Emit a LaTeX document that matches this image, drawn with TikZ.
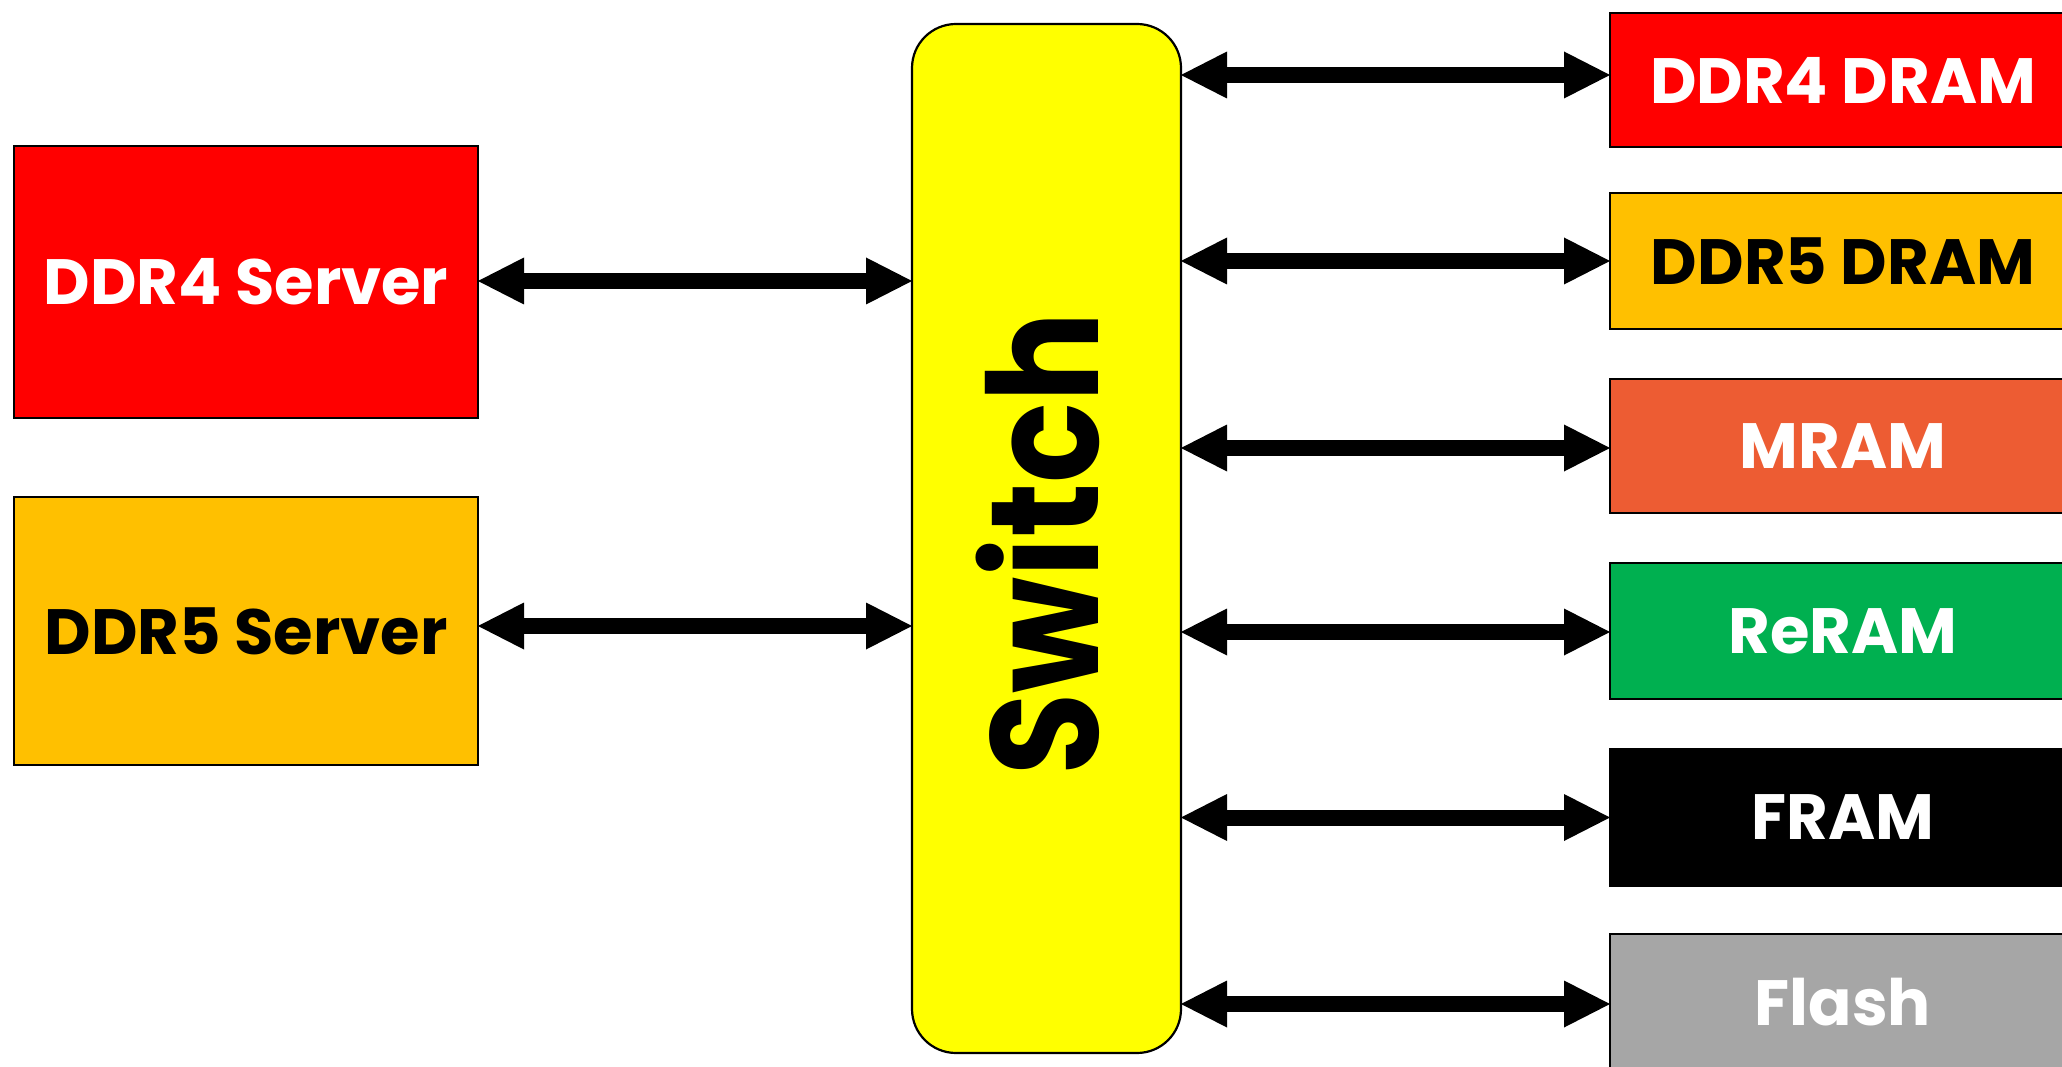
\documentclass[tikz,border=0pt]{standalone}
\usepackage{fontspec}
\setmainfont{Poppins}
\usetikzlibrary{arrows.meta}
\definecolor{cRed}{HTML}{FF0000}
\definecolor{cOrange}{HTML}{FFC000}
\definecolor{cMram}{HTML}{ED5C33}
\definecolor{cGreen}{HTML}{00B050}
\definecolor{cGray}{HTML}{A6A6A6}
\definecolor{cYellow}{HTML}{FFFF00}
\tikzset{
  box/.style={draw=black, line width=2pt, inner sep=0pt, outer sep=0pt,
    font=\fontsize{64}{70}\selectfont\bfseries},
  biarrow/.style={line width=16pt,
    {Triangle[width=47pt,length=46pt,line width=0pt]}-{Triangle[width=47pt,length=46pt,line width=0pt]}},
}
\begin{document}
\begin{tikzpicture}[x=1pt,y=-1pt]
\useasboundingbox (0,0) rectangle (2062,1067);
\clip (0,0) rectangle (2062,1067);
% left boxes
\node[box, fill=cRed, text=white, minimum width=464pt, minimum height=272pt] (s4) at (246,282) {DDR4 Server};
\node[box, fill=cOrange, text=black, minimum width=464pt, minimum height=268pt] (s5) at (246,631) {DDR5 Server};
% switch
\node[draw=black, line width=2.2pt, fill=cYellow, rounded corners=44pt, minimum width=269pt, minimum height=1029pt, inner sep=0pt, outer sep=0pt] (sw) at (1046.5,538.5) {};
\node[rotate=90, anchor=base, inner sep=0pt, font=\fontsize{153}{160}\selectfont\bfseries] (swt) at (1098,544) {\scalebox{0.875}[1]{Switch}};
% right boxes
\node[box, fill=cRed, text=white, minimum width=466pt, minimum height=134pt] (r1) at (1843,80) {DDR4 DRAM};
\node[box, fill=cOrange, text=black, minimum width=466pt, minimum height=136pt] (r2) at (1843,261) {DDR5 DRAM};
\node[box, fill=cMram, text=white, minimum width=466pt, minimum height=134pt] (r3) at (1843,446) {MRAM};
\node[box, fill=cGreen, text=white, minimum width=466pt, minimum height=136pt] (r4) at (1843,631) {ReRAM};
\node[box, fill=black, text=white, minimum width=466pt, minimum height=137pt] (r5) at (1843,817.5) {FRAM};
\node[box, fill=cGray, text=white, minimum width=466pt, minimum height=136pt] (r6) at (1843,1002) {Flash};
% arrows
\draw[biarrow] ([yshift=1pt]s4.east) -- ([yshift=1pt]s4.east -| sw.west);
\draw[biarrow] ([yshift=5pt]s5.east) -- ([yshift=5pt]s5.east -| sw.west);
\draw[biarrow] ([yshift=5pt]r1.west -| sw.east) -- ([yshift=5pt]r1.west);
\draw[biarrow] (r2.west -| sw.east) -- (r2.west);
\draw[biarrow] ([yshift=-2pt]r3.west -| sw.east) -- ([yshift=-2pt]r3.west);
\draw[biarrow] ([yshift=-1pt]r4.west -| sw.east) -- ([yshift=-1pt]r4.west);
\draw[biarrow] (r5.west -| sw.east) -- (r5.west);
\draw[biarrow] ([yshift=-2pt]r6.west -| sw.east) -- ([yshift=-2pt]r6.west);
\end{tikzpicture}
\end{document}
